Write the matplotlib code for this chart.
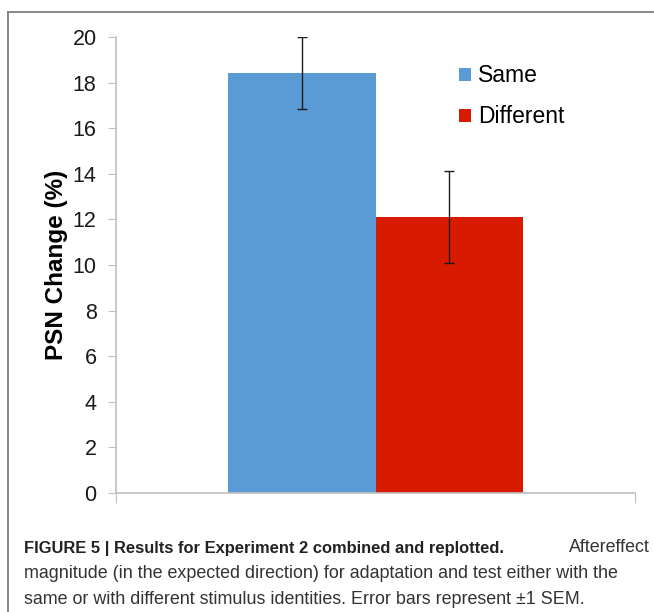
import matplotlib
matplotlib.use('Agg')
import matplotlib.pyplot as plt
from matplotlib.lines import Line2D

plt.rcParams['font.family'] = ['Liberation Sans', 'DejaVu Sans']

conditions = ['Same', 'Different']
psn_change = [18.42, 12.1]
sem = [1.58, 2.02]
colors = ['#5b9bd5', '#d81b00']
yticks = [0, 2, 4, 6, 8, 10, 12, 14, 16, 18, 20]

fig = plt.figure(figsize=(6.54, 6.12), dpi=100)

# grey frame around the figure panel (top and left edge)
fig.add_artist(Line2D([8/654, 1.0], [1-12/612, 1-12/612], color='#7f7f7f', lw=1.3))
fig.add_artist(Line2D([8/654, 8/654], [1-12/612, 0.0], color='#7f7f7f', lw=1.3))

ax = fig.add_axes([116/654, 1-493/612, (635-116)/654, (493-37)/612])

w = 0.285
xpos = [-w/2, w/2]
for i in range(len(conditions)):
    ax.bar(xpos[i], psn_change[i], width=w, color=colors[i], label=conditions[i], zorder=2)
    ax.errorbar(xpos[i], psn_change[i], yerr=sem[i], color='#1a1a1a', lw=1, capsize=3.5, capthick=1, zorder=3)

ax.set_xlim(-0.5, 0.5)
ax.set_ylim(0, 20)
ax.set_yticks(yticks)
ax.set_xticks([-0.5, 0.5])
ax.set_xticklabels([])
ax.tick_params(axis='y', length=6, color='#bfbfbf', labelsize=15.5, pad=8, labelcolor='#1a1a1a')
ax.tick_params(axis='x', length=7, color='#bfbfbf', direction='out')
for s in ['top', 'right']:
    ax.spines[s].set_visible(False)
for s in ['left', 'bottom']:
    ax.spines[s].set_color('#bfbfbf')
    ax.spines[s].set_linewidth(1.2)
ax.set_ylabel('PSN Change (%)', fontsize=17.5, fontweight='bold', labelpad=3)

ax.legend(loc='upper left', bbox_to_anchor=(0.622, 0.985), frameon=False, fontsize=16.5,
          handlelength=0.5, handleheight=0.5, handletextpad=0.3, labelspacing=0.78)

fig.text(24/654, 1-548/612, 'FIGURE 5 | Results for Experiment 2 combined and replotted.',
         fontsize=11.9, fontweight='bold', color='#222222', va='center', ha='left')
fig.text(650/654, 1-548/612, 'Aftereffect', fontsize=12.9, color='#333333', va='center', ha='right')
fig.text(24/654, 1-574/612, 'magnitude (in the expected direction) for adaptation and test either with the',
         fontsize=12.9, color='#333333', va='center', ha='left')
fig.text(24/654, 1-599/612, 'same or with different stimulus identities. Error bars represent \u00b11 SEM.',
         fontsize=12.9, color='#333333', va='center', ha='left')

fig.savefig('out.png', dpi=100)
